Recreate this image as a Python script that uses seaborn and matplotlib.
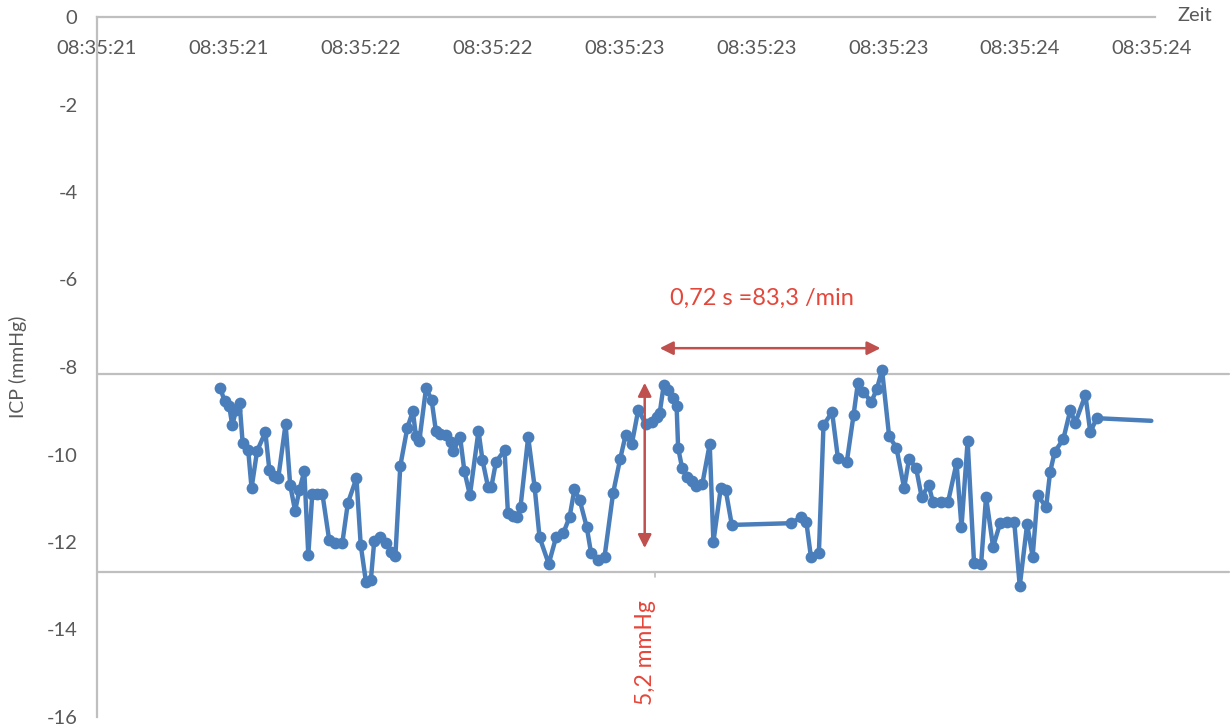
import matplotlib
matplotlib.use("Agg")
import matplotlib.pyplot as plt
import seaborn as sns
import pandas as pd

sns.set_style("white")
plt.rcParams["font.family"] = ["Lato", "DejaVu Sans"]
plt.rcParams["axes.unicode_minus"] = False

# ICP recording: time in seconds after 08:35:00, pressure in mmHg
time_s = [
    21.302, 21.316, 21.331, 21.341, 21.354, 21.365, 21.375, 21.393, 21.404, 21.422,
    21.449, 21.462, 21.478, 21.491, 21.515, 21.530, 21.546, 21.560, 21.576, 21.589,
    21.602, 21.618, 21.635, 21.657, 21.677, 21.700, 21.718, 21.746, 21.760, 21.777,
    21.793, 21.804, 21.824, 21.844, 21.860, 21.873, 21.889, 21.912, 21.930, 21.940,
    21.951, 21.973, 21.991, 22.005, 22.020, 22.038, 22.053, 22.062, 22.084, 22.098,
    22.116, 22.144, 22.157, 22.175, 22.186, 22.201, 22.229, 22.240, 22.255, 22.271,
    22.281, 22.306, 22.327, 22.343, 22.373, 22.397, 22.421, 22.441, 22.457, 22.474,
    22.497, 22.511, 22.533, 22.555, 22.583, 22.606, 22.624, 22.644, 22.665, 22.689,
    22.709, 22.725, 22.735, 22.748, 22.763, 22.779, 22.790, 22.795, 22.808, 22.825,
    22.839, 22.854, 22.874, 22.898, 22.910, 22.934, 22.950, 22.970, 23.163, 23.197,
    23.213, 23.228, 23.254, 23.269, 23.297, 23.316, 23.345, 23.367, 23.381, 23.399,
    23.425, 23.443, 23.460, 23.483, 23.507, 23.532, 23.548, 23.571, 23.589, 23.612,
    23.626, 23.652, 23.675, 23.703, 23.719, 23.739, 23.760, 23.783, 23.799, 23.822,
    23.845, 23.868, 23.891, 23.909, 23.933, 23.951, 23.967, 23.995, 24.008, 24.023,
    24.051, 24.074, 24.090, 24.123, 24.139, 24.160, 24.338,
]
icp_mmhg = [
    -8.48, -8.78, -8.89, -9.33, -8.98, -8.82, -9.74, -9.90, -10.77, -9.92,
    -9.49, -10.35, -10.49, -10.54, -9.30, -10.70, -11.29, -10.81, -10.38, -12.30,
    -10.90, -10.90, -10.90, -11.95, -12.02, -12.02, -11.11, -10.54, -12.07, -12.91,
    -12.87, -11.98, -11.89, -12.02, -12.23, -12.32, -10.26, -9.39, -9.01, -9.58,
    -9.69, -8.48, -8.75, -9.46, -9.53, -9.55, -9.71, -9.92, -9.60, -10.38,
    -10.93, -9.46, -10.13, -10.74, -10.74, -10.17, -9.90, -11.34, -11.41, -11.43,
    -11.20, -9.60, -10.74, -11.89, -12.50, -11.89, -11.79, -11.43, -10.79, -11.04,
    -11.66, -12.25, -12.41, -12.34, -10.88, -10.10, -9.55, -9.76, -8.98, -9.30,
    -9.26, -9.14, -9.05, -8.41, -8.53, -8.71, -8.89, -9.85, -10.31, -10.51,
    -10.61, -10.72, -10.67, -9.76, -12.00, -10.77, -10.81, -11.61, -11.57, -11.43,
    -11.54, -12.34, -12.25, -9.33, -9.03, -10.08, -10.17, -9.10, -8.37, -8.57,
    -8.80, -8.50, -8.07, -9.58, -9.85, -10.77, -10.10, -10.31, -10.97, -10.70,
    -11.09, -11.09, -11.09, -10.19, -11.66, -9.69, -12.48, -12.50, -10.97, -12.11,
    -11.57, -11.54, -11.54, -13.01, -11.59, -12.34, -10.93, -11.20, -10.40, -9.94,
    -9.65, -8.98, -9.28, -8.64, -9.49, -9.17, -9.23,
]

tick_times = [20.90, 21.33, 21.76, 22.19, 22.62, 23.05, 23.48, 23.91, 24.34]
tick_labels = ["08:35:21", "08:35:21", "08:35:22", "08:35:22", "08:35:23",
               "08:35:23", "08:35:23", "08:35:24", "08:35:24"]
y_ticks = [0, -2, -4, -6, -8, -10, -12, -14, -16]

# Reference band (peak / trough level) and the two measurement arrows
band_levels = [-8.15, -12.68]
band_end_time = 24.59
period_start = 22.735
period_len = 0.72
period_level = -7.57
amp_time = 22.686
amp_top = -8.36
amp_bottom = -12.14

LINE_BLUE = "#4A7EBB"
AXIS_GREY = "#BFBFBF"
TEXT_GREY = "#595959"
ARROW_RED = "#C0504D"
TEXT_RED = "#E5463A"

df = pd.DataFrame({"Zeit": time_s, "ICP": icp_mmhg})

fig = plt.figure(figsize=(12.32, 7.28), dpi=100)
ax = fig.add_axes([97 / 1232, 11 / 728, 1058 / 1232, 700 / 728])

sns.lineplot(data=df, x="Zeit", y="ICP", ax=ax, sort=False, estimator=None,
             color=LINE_BLUE, linewidth=3.2, marker="o", markersize=8.5,
             markeredgewidth=0, markevery=list(range(len(time_s) - 1)), zorder=3)

ax.set_xlim(tick_times[0], tick_times[-1] + 0.01)
ax.set_ylim(-16, 0)

# axis at y = 0 along the top, labels hanging below it
ax.xaxis.tick_top()
ax.set_xticks(tick_times, tick_labels)
ax.tick_params(axis="x", length=0, pad=-29, labelsize=14.5, colors=TEXT_GREY)
ax.set_yticks(y_ticks)
ax.tick_params(axis="y", length=0, pad=14, labelsize=14.5, colors=TEXT_GREY)
ax.set_xlabel("")
ax.set_ylabel("ICP (mmHg)", fontsize=14, color=TEXT_GREY)
ax.yaxis.set_label_coords(-0.066, 0.5)

for side in ("right", "bottom"):
    ax.spines[side].set_visible(False)
for side in ("top", "left"):
    ax.spines[side].set_color(AXIS_GREY)
    ax.spines[side].set_linewidth(1.6)

ax.annotate("Zeit", xy=(1.0, 1.0), xycoords="axes fraction",
            xytext=(16, 1), textcoords="offset points",
            ha="left", va="center", fontsize=14.5, color=TEXT_GREY)

# peak / trough reference lines, reaching past the plot area
for lvl in band_levels:
    ax.plot([tick_times[0], band_end_time], [lvl, lvl], color=AXIS_GREY,
            linewidth=1.6, clip_on=False, zorder=2)
ax.plot([period_start - 0.016, period_start - 0.016],
        [band_levels[1], band_levels[1] - 0.12], color=AXIS_GREY,
        linewidth=1.2, zorder=2)

# pulse period arrow
ax.annotate("", xy=(period_start + period_len, period_level),
            xytext=(period_start, period_level),
            arrowprops=dict(arrowstyle="<|-|>", color=ARROW_RED, lw=1.8,
                            mutation_scale=20, shrinkA=0, shrinkB=0))
ax.text(period_start + period_len / 2 - 0.027, -6.42, "0,72 s =83,3 /min",
        ha="center", va="center", fontsize=17, color=TEXT_RED)

# pulse amplitude arrow
ax.annotate("", xy=(amp_time, amp_bottom), xytext=(amp_time, amp_top),
            arrowprops=dict(arrowstyle="<|-|>", color=ARROW_RED, lw=1.8,
                            mutation_scale=20, shrinkA=0, shrinkB=0))
ax.text(amp_time + 0.003, -14.52, "5,2 mmHg", rotation=90,
        ha="center", va="center", fontsize=16.5, color=TEXT_RED)

fig.savefig("out.png", dpi=100)
